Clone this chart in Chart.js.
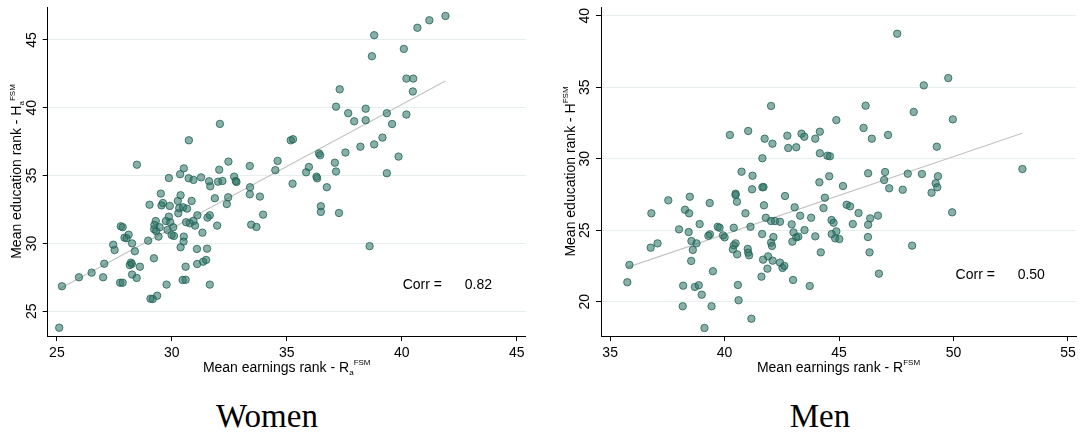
<!DOCTYPE html>
<html>
<head>
<meta charset="utf-8">
<script src="https://cdn.jsdelivr.net/npm/chart.js@4"></script>
<style>
  body { margin: 0; background: #fff; width: 1081px; height: 436px; overflow: hidden; position: relative; }
  canvas { position: absolute; top: 0; }
  #women { left: 0; }
  #men { left: 550px; }
  .panel-name {
    position: absolute; top: 399px; line-height: 34px;
    font-family: "Liberation Serif", "Times New Roman", serif; font-size: 33px; color: #000;
    transform: translateX(-50%); white-space: nowrap;
  }
</style>
</head>
<body>
<canvas id="women" width="540" height="380"></canvas>
<canvas id="men" width="531" height="380"></canvas>
<div class="panel-name" style="left:267px">Women</div>
<div class="panel-name" style="left:820px">Men</div>

<script>
// women: mean earnings rank (x) vs mean education rank (y), one point per area
const womenEarn = [41.90, 41.20, 40.68, 38.80, 40.09, 38.70, 40.20, 40.50, 40.48, 37.30,
  37.14, 37.67, 38.43, 37.93, 38.43, 39.35, 40.20, 39.58, 35.17, 35.27,
  34.60, 34.50, 35.25, 36.40, 36.45, 35.96, 35.84, 36.29, 36.32, 36.74,
  37.09, 37.14, 37.55, 38.20, 38.80, 39.16, 39.86, 39.35, 33.83, 33.97,
  36.48, 36.48, 37.27, 38.60, 32.09, 30.74, 28.48, 33.39, 32.46, 32.06,
  30.52, 30.36, 29.87, 30.73, 30.94, 31.27, 31.62, 31.67, 32.01, 32.20,
  32.71, 32.78, 32.81, 33.40, 33.39, 33.45, 33.68, 29.52, 29.03, 29.55,
  29.61, 29.91, 30.26, 30.38, 30.86, 30.32, 30.49, 30.66, 30.28, 31.87,
  32.45, 32.39, 31.11, 31.65, 31.55, 30.94, 30.78, 30.62, 31.01, 31.97,
  29.87, 29.30, 29.74, 29.93, 29.24, 29.47, 30.06, 29.23, 29.32, 29.81,
  29.42, 29.99, 30.09, 31.33, 30.52, 30.51, 30.38, 31.09, 31.53, 28.97,
  27.78, 27.86, 27.94, 28.03, 28.12, 28.27, 27.45, 27.51, 28.39, 29.22,
  27.06, 28.22, 28.26, 28.17, 28.61, 26.51, 27.01, 28.27, 28.47, 27.75,
  27.86, 30.60, 31.10, 31.36, 31.49, 30.47, 30.60, 29.77, 31.65, 29.07,
  29.17, 29.36, 25.22, 25.10, 25.96];
const womenEdu = [46.77, 46.45, 45.90, 45.35, 44.34, 43.80, 42.15, 42.15, 41.20, 41.36,
  40.08, 39.60, 39.93, 39.00, 39.08, 39.60, 39.50, 38.80, 37.60, 37.68,
  36.08, 35.40, 34.40, 36.64, 36.50, 35.63, 35.24, 34.92, 34.80, 34.14,
  35.95, 35.30, 36.70, 37.13, 37.30, 37.80, 36.40, 35.17, 33.45, 32.12,
  32.74, 32.32, 32.24, 29.80, 38.81, 37.60, 35.80, 35.71, 36.03, 35.43,
  35.53, 35.10, 34.82, 34.80, 34.68, 34.87, 34.58, 34.21, 34.55, 34.60,
  34.92, 34.60, 34.53, 34.14, 33.62, 31.38, 31.21, 33.67, 32.85, 32.80,
  32.98, 32.76, 33.13, 33.55, 33.13, 32.59, 32.66, 32.56, 32.22, 33.33,
  33.40, 32.90, 32.07, 32.07, 31.90, 31.65, 31.48, 31.56, 31.31, 31.31,
  31.97, 31.65, 31.65, 31.56, 31.36, 31.19, 31.19, 31.04, 30.90, 30.99,
  30.50, 30.62, 30.55, 30.79, 30.50, 30.13, 29.71, 29.59, 29.61, 30.20,
  31.26, 31.19, 30.42, 30.38, 30.64, 30.00, 29.90, 29.51, 29.42, 28.90,
  28.50, 28.58, 28.48, 28.40, 28.28, 27.84, 27.50, 27.70, 27.45, 27.10,
  27.10, 28.28, 28.48, 28.65, 28.78, 27.30, 27.32, 26.96, 26.96, 25.92,
  25.90, 26.14, 26.84, 23.78, 27.50];

// men: same ranks for the male sample
const menEarn = [47.54, 49.77, 48.70, 46.16, 48.26, 44.88, 49.97, 44.16, 43.96, 46.07,
  46.43, 47.14, 49.27, 44.16, 44.49, 44.60, 53.01, 44.57, 44.14, 45.17,
  46.27, 47.01, 46.97, 48.00, 48.62, 49.32, 49.22, 49.29, 47.19, 47.78,
  49.04, 44.38, 45.33, 45.48, 45.85, 45.60, 46.36, 46.70, 46.27, 46.26,
  49.94, 48.19, 46.33, 46.74, 44.32, 43.78, 44.67, 44.76, 43.96, 44.68,
  44.88, 44.83, 45.01, 44.20, 43.72, 42.03, 40.23, 41.03, 41.75, 42.09,
  42.74, 43.36, 43.48, 42.78, 43.13, 41.65, 40.74, 41.22, 41.65, 41.70,
  41.20, 40.48, 40.48, 40.54, 42.64, 37.54, 38.48, 39.35, 36.80, 38.27,
  38.45, 40.91, 43.06, 41.72, 43.30, 41.80, 42.03, 42.20, 42.42, 41.13,
  42.93, 38.91, 38.01, 38.43, 39.70, 39.78, 40.40, 39.36, 39.29, 39.93,
  40.00, 41.64, 42.13, 43.01, 43.49, 43.13, 43.22, 38.55, 38.77, 38.61,
  40.48, 40.40, 40.36, 40.55, 41.01, 41.03, 41.07, 42.03, 42.07, 41.90,
  41.68, 42.10, 42.42, 42.53, 42.61, 42.96, 41.87, 41.61, 42.99, 35.84,
  35.75, 36.77, 37.07, 38.54, 39.49, 38.19, 38.70, 38.87, 39.00, 38.17,
  39.43, 40.58, 40.61, 41.17, 39.12];
const menEdu = [38.74, 35.64, 35.13, 33.71, 33.27, 32.70, 32.75, 31.89, 31.40, 32.15,
  31.40, 31.66, 30.84, 30.38, 30.21, 30.17, 29.28, 28.77, 28.35, 28.09,
  28.98, 29.07, 28.51, 28.95, 28.93, 28.77, 28.28, 28.00, 27.93, 27.83,
  27.62, 27.27, 26.78, 26.67, 26.20, 25.43, 25.83, 26.02, 25.38, 24.52,
  26.25, 23.92, 23.45, 21.96, 26.55, 25.87, 25.71, 25.52, 24.57, 24.73,
  24.92, 24.43, 24.38, 23.45, 21.10, 33.69, 31.66, 31.94, 31.40, 31.05,
  31.61, 31.75, 31.54, 30.75, 30.80, 30.03, 29.09, 28.81, 28.00, 28.02,
  27.86, 27.55, 27.46, 26.99, 27.39, 27.09, 27.34, 26.90, 26.18, 26.43,
  26.18, 26.18, 26.60, 26.74, 26.01, 25.87, 25.64, 25.64, 25.59, 25.24,
  25.41, 25.43, 25.06, 24.87, 25.24, 25.17, 25.17, 24.71, 24.61, 24.64,
  24.50, 24.73, 24.52, 24.85, 25.01, 24.50, 24.55, 24.24, 24.08, 23.62,
  24.08, 23.94, 23.66, 23.31, 23.69, 23.43, 23.24, 24.13, 23.90, 23.17,
  22.94, 22.87, 22.73, 22.36, 22.50, 24.20, 22.31, 21.75, 21.52, 22.57,
  21.36, 23.78, 24.08, 22.85, 22.13, 21.12, 21.03, 21.15, 20.49, 19.68,
  19.68, 21.17, 20.10, 18.81, 18.16];

// ends of the fitted lines
const womenFitX = [25.10, 41.90];
const womenFitY = [26.64, 41.98];
const menFitX = [35.75, 53.00];
const menFitY = [22.40, 31.78];

const womenXTicks = [25, 30, 35, 40, 45];
const womenYTicks = [25, 30, 35, 40, 45];
const menXTicks = [35, 40, 45, 50, 55];
const menYTicks = [20, 25, 30, 35, 40];

const womenCorr = '0.82';
const menCorr = '0.50';

Chart.defaults.font.family = '"Liberation Sans", Arial, sans-serif';
Chart.defaults.color = '#000';

const SANS = '"Liberation Sans", Arial, sans-serif';

function pts(xs, ys) {
  return xs.map((x, i) => ({ x: x, y: ys[i] }));
}

// text with sub/superscripts: parts = [text, dy, size]
function richWidth(ctx, parts) {
  let w = 0;
  parts.forEach(([t, dy, size]) => {
    ctx.font = size + 'px ' + SANS;
    w += ctx.measureText(t).width;
  });
  return w;
}
function drawRich(ctx, parts, cx, base) {
  let x = cx - richWidth(ctx, parts) / 2;
  ctx.textAlign = 'left';
  ctx.textBaseline = 'alphabetic';
  parts.forEach(([t, dy, size]) => {
    ctx.font = size + 'px ' + SANS;
    ctx.fillText(t, x, base + dy);
    x += ctx.measureText(t).width;
  });
}

const panelText = {
  id: 'panelText',
  afterDraw(chart, args, opts) {
    const { ctx, chartArea: a, scales: { x, y } } = chart;
    ctx.save();
    ctx.fillStyle = '#000';

    // y tick labels, turned to read upwards
    ctx.font = '14px ' + SANS;
    ctx.textAlign = 'center';
    ctx.textBaseline = 'middle';
    y.ticks.forEach(t => {
      ctx.save();
      ctx.translate(a.left - 16.5, y.getPixelForValue(t.value));
      ctx.rotate(-Math.PI / 2);
      ctx.fillText(String(t.value), 0, 1);
      ctx.restore();
    });

    // axis titles
    drawRich(ctx, opts.xTitle, (a.left + a.right) / 2, 371.5);
    ctx.save();
    ctx.translate(a.left - 31.5, (a.top + a.bottom) / 2);
    ctx.rotate(-Math.PI / 2);
    drawRich(ctx, opts.yTitle, 0, 5);
    ctx.restore();

    // correlation note
    ctx.font = '14px ' + SANS;
    ctx.textAlign = 'left';
    ctx.textBaseline = 'alphabetic';
    const by = y.getPixelForValue(opts.corrY);
    ctx.fillText('Corr =', x.getPixelForValue(opts.corrX), by);
    ctx.fillText(opts.corr, x.getPixelForValue(opts.corrValX), by);
    ctx.restore();
  }
};

function makePanel(id, p) {
  return new Chart(id, {
    type: 'scatter',
    data: {
      datasets: [
        {
          data: pts(p.earn, p.edu),
          backgroundColor: 'rgba(42,114,100,0.56)',
          borderColor: 'rgba(34,98,86,0.8)',
          borderWidth: 1,
          pointRadius: 3.7,
          order: 1
        },
        {
          type: 'line',
          data: pts(p.fitX, p.fitY),
          borderColor: '#c4c4c4',
          borderWidth: 1.2,
          pointRadius: 0,
          order: 2
        }
      ]
    },
    options: {
      responsive: false,
      animation: false,
      devicePixelRatio: 1,
      layout: { padding: p.pad },
      plugins: {
        legend: { display: false },
        tooltip: { enabled: false },
        panelText: p.text
      },
      scales: {
        x: {
          type: 'linear',
          min: p.xMin,
          max: p.xMax,
          afterBuildTicks: s => { s.ticks = p.xTicks.map(v => ({ value: v })); },
          afterFit: s => { s.height = 44; },
          grid: { drawOnChartArea: false, tickColor: '#000', tickLength: 5 },
          border: { color: '#000', width: 1 },
          ticks: { color: '#000', font: { size: 14 }, padding: 4, maxRotation: 0 }
        },
        y: {
          type: 'linear',
          min: p.yMin,
          max: p.yMax,
          afterBuildTicks: s => { s.ticks = p.yTicks.map(v => ({ value: v })); },
          afterFit: s => { s.width = p.yWidth; },
          grid: { color: '#e6efed', lineWidth: 1, tickColor: '#000', tickLength: 5 },
          border: { color: '#000', width: 1 },
          ticks: { display: false }
        }
      }
    },
    plugins: [panelText]
  });
}

makePanel('women', {
  earn: womenEarn, edu: womenEdu, fitX: womenFitX, fitY: womenFitY,
  xTicks: womenXTicks, yTicks: womenYTicks,
  xMin: 24.6, xMax: 45.39, yMin: 23.17, yMax: 47.43,
  yWidth: 47.7, pad: { top: 7, right: 14.3, left: 0, bottom: 0 },
  text: {
    xTitle: [['Mean earnings rank - R', 0, 14], ['a', 3, 8], ['FSM', -6.5, 8]],
    yTitle: [['Mean education rank - H', 0, 14], ['a', 3, 8], ['FSM', -6.5, 8]],
    corr: womenCorr, corrX: 40.04, corrValX: 42.74, corrY: 26.61
  }
});

makePanel('men', {
  earn: menEarn, edu: menEdu, fitX: menFitX, fitY: menFitY,
  xTicks: menXTicks, yTicks: menYTicks,
  xMin: 34.6, xMax: 55.35, yMin: 17.6, yMax: 40.61,
  yWidth: 51, pad: { top: 7, right: 3, left: 0, bottom: 0 },
  text: {
    xTitle: [['Mean earnings rank - R', 0, 14], ['FSM', -6.5, 8]],
    yTitle: [['Mean education rank - H', 0, 14], ['FSM', -6.5, 8]],
    corr: menCorr, corrX: 50.09, corrValX: 52.8, corrY: 21.59
  }
});
</script>
</body>
</html>
